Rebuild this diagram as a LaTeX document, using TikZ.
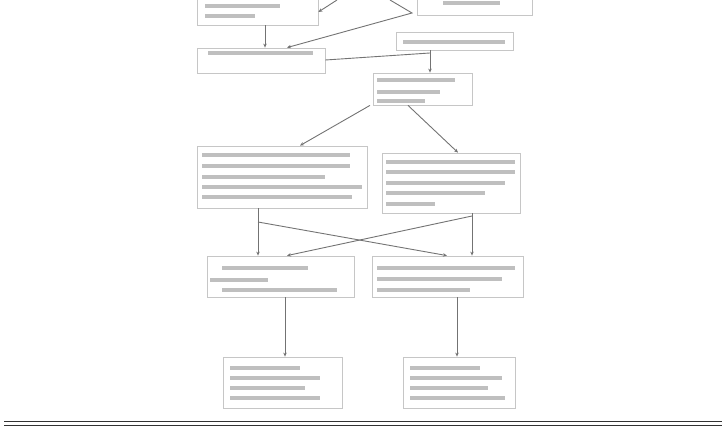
\documentclass[tikz,border=0pt]{standalone}
\usetikzlibrary{arrows.meta}
\begin{document}
\begin{tikzpicture}[x=1pt,y=-1pt,
  box/.style={draw=gray!45,line width=0.8pt,inner sep=0pt,rectangle},
  bar/.style={draw=none,fill=gray!50},
  conn/.style={draw=black!55,line width=0.9pt},
  arr/.style={conn,-{Stealth[length=4pt,width=3.5pt]}},
  rule/.style={draw=black!80}]
\useasboundingbox (0,0) rectangle (722,427);
\clip (0,0) rectangle (722,427);
% boxes
\node[box,minimum width=121pt,minimum height=37pt] (TL) at (257.5,6.5) {};
\node[box,minimum width=115pt,minimum height=27pt] (TR) at (474.5,1.5) {};
\node[box,minimum width=128pt,minimum height=25pt] (ML) at (261,60.5) {};
\node[box,minimum width=117pt,minimum height=18pt] (MR) at (454.5,41) {};
\node[box,minimum width=99pt,minimum height=32pt] (C) at (422.5,89) {};
\node[box,minimum width=170pt,minimum height=62pt] (LB) at (282,177) {};
\node[box,minimum width=138pt,minimum height=60pt] (RB) at (451,183) {};
\node[box,minimum width=147pt,minimum height=41pt] (LL) at (280.5,276.5) {};
\node[box,minimum width=151pt,minimum height=41pt] (LR) at (447.5,276.5) {};
\node[box,minimum width=119pt,minimum height=51pt] (BL) at (282.5,382.5) {};
\node[box,minimum width=112pt,minimum height=51pt] (BR) at (459,382.5) {};
% text lines (illegible in the reference)
\foreach \a/\b/\y in {205/280/6,205/255/16,
  443/500/3,
  208/313/53,
  403/505/42,
  377/455/80,377/440/92,377/425/101,
  202/350/155,202/350/166,202/325/177,202/362/187,202/352/197,
  386/515/162,386/515/172,386/505/183,386/485/193,386/435/204,
  222/308/268,210/268/280,222/337/290,
  377/515/268,377/502/279,377/470/290,
  230/300/368,230/320/378,230/305/388,230/320/398,
  410/480/368,410/502/378,410/488/388,410/505/398}
  {\fill[bar] (\a,\y-1.6) rectangle (\b,\y+1.6);}
% helper coordinates
\coordinate (x258) at (258,0);
\coordinate (x265) at (265,0);
\coordinate (x285) at (285,0);
\coordinate (x287) at (287,0);
\coordinate (x300) at (300,0);
\coordinate (x370) at (370,0);
\coordinate (x408) at (408,0);
\coordinate (x430) at (430,0);
\coordinate (x447) at (447,0);
\coordinate (x457) at (457,0);
\coordinate (x458) at (458,0);
\coordinate (x472) at (472,0);
\coordinate (y12) at (0,12);
\coordinate (y60) at (0,60);
\coordinate (pA) at (337,0);
\coordinate (pB) at (390,0);
\coordinate (pC) at (412,13);
\coordinate (pD) at (430,53);
\coordinate (pE) at (258,222);
\coordinate (pF) at (472,216);
% connectors
\draw[arr] (TL.south -| x265) -- (ML.north -| x265);
\draw[arr] (pA) -- (TL.east |- y12);
\draw[arr] (pB) -- (pC) -- (ML.north -| x287);
\draw[conn] (ML.east |- y60) -- (pD);
\draw[arr] (MR.south -| x430) -- (C.north -| x430);
\draw[arr] (C.south -| x370) -- (LB.north -| x300);
\draw[arr] (C.south -| x408) -- (RB.north -| x458);
\draw[arr] (LB.south -| x258) -- (LL.north -| x258);
\draw[arr] (pE) -- (LR.north -| x447);
\draw[arr] (RB.south -| x472) -- (LR.north -| x472);
\draw[arr] (pF) -- (LL.north -| x287);
\draw[arr] (LL.south -| x285) -- (BL.north -| x285);
\draw[arr] (LR.south -| x457) -- (BR.north -| x457);
% double rule at the foot
\draw[rule,line width=1.3pt] (4,421.5) -- (722,421.5);
\draw[rule,line width=1pt] (4,425.5) -- (722,425.5);
\end{tikzpicture}
\end{document}
